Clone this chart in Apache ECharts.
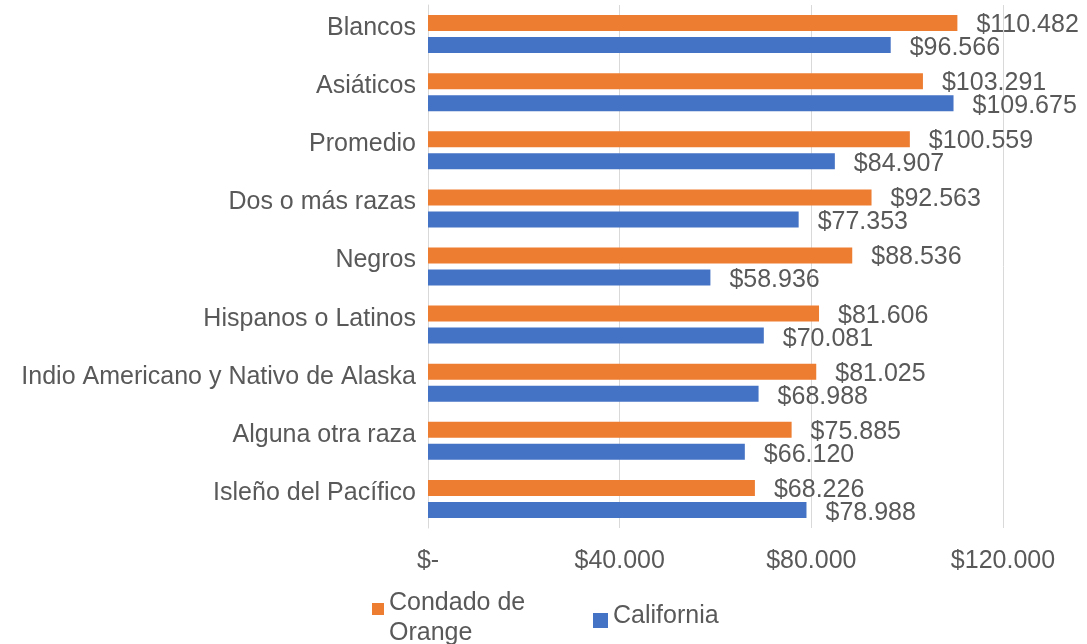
<!DOCTYPE html>
<html>
<head>
<meta charset="utf-8">
<script src="https://cdn.jsdelivr.net/npm/echarts@6/dist/echarts.min.js"></script>
<style>
html,body{margin:0;padding:0;background:#fff;}
#chart{width:1087px;height:644px;}
</style>
</head>
<body>
<div id="chart"></div>
<script>
const categories = ["Blancos","Asiáticos","Promedio","Dos o más razas","Negros","Hispanos o Latinos","Indio Americano y Nativo de Alaska","Alguna otra raza","Isleño del Pacífico"];
const orangeCounty = [110482,103291,100559,92563,88536,81606,81025,75885,68226];
const california = [96566,109675,84907,77353,58936,70081,68988,66120,78988];
const seriesNames = ["Condado de Orange","California"];
const axisTicks = [0,40000,80000,120000];

function money(v){
  if(v===0) return "$-";
  return "$" + String(Math.round(v)).replace(/\B(?=(\d{3})+(?!\d))/g, ".");
}
const FONT = '"Liberation Sans", Arial, sans-serif';
const TXT = '#595959';
const FS = 25;

const chart = echarts.init(document.getElementById('chart'), null, {renderer:'canvas'});
chart.setOption({
  animation:false,
  color:['#ED7D31','#4472C4'],
  textStyle:{fontFamily:FONT},
  grid:{left:428,right:84,top:5,bottom:116,containLabel:false},
  legend:[
    {
      data:[seriesNames[0]],
      left:372, top:576, padding:0,
      itemWidth:12,itemHeight:12,
      icon:'rect',
      formatter:function(){return "{s| }\n{a|Condado de}\n{a|Orange}";},
      textStyle:{fontSize:FS,color:TXT,fontFamily:FONT,
        rich:{s:{fontSize:6,lineHeight:18},a:{fontSize:FS,color:TXT,fontFamily:FONT,lineHeight:30}}}
    },
    {
      data:[seriesNames[1]],
      left:593, top:604, padding:0,
      itemWidth:15,itemHeight:15,
      icon:'rect',
      formatter:function(n){return "{a|"+n+"}\n{s| }";},
      textStyle:{fontSize:FS,color:TXT,fontFamily:FONT,
        rich:{s:{fontSize:6,lineHeight:8},a:{fontSize:FS,color:TXT,fontFamily:FONT,lineHeight:30}}}
    }
  ],
  xAxis:{
    type:'value',min:axisTicks[0],max:axisTicks[axisTicks.length-1],interval:40000,
    axisLine:{show:false},axisTick:{show:false},
    splitLine:{show:true,lineStyle:{color:'#d9d9d9',width:1}},
    axisLabel:{formatter:money,fontSize:FS,color:TXT,margin:21,fontFamily:FONT}
  },
  yAxis:{
    type:'category',data:categories,inverse:true,
    axisLine:{show:true,lineStyle:{color:'#d9d9d9'}},
    axisTick:{show:false},
    axisLabel:{fontSize:FS,color:TXT,margin:12,fontFamily:FONT,
      formatter:function(v){return "{a|"+v+"}\n{s| }";},
      rich:{a:{fontSize:FS,color:TXT,fontFamily:FONT,lineHeight:30},s:{fontSize:6,lineHeight:12}}}
  },
  series:[
    {name:seriesNames[0],type:'bar',data:orangeCounty,barWidth:16,barGap:'37.5%',
     label:{show:true,position:'right',distance:19,offset:[0,2],formatter:p=>money(p.value),fontSize:FS,color:TXT,fontFamily:FONT}},
    {name:seriesNames[1],type:'bar',data:california,barWidth:16,barGap:'37.5%',
     label:{show:true,position:'right',distance:19,offset:[0,3],formatter:p=>money(p.value),fontSize:FS,color:TXT,fontFamily:FONT}}
  ]
});
</script>
</body>
</html>
